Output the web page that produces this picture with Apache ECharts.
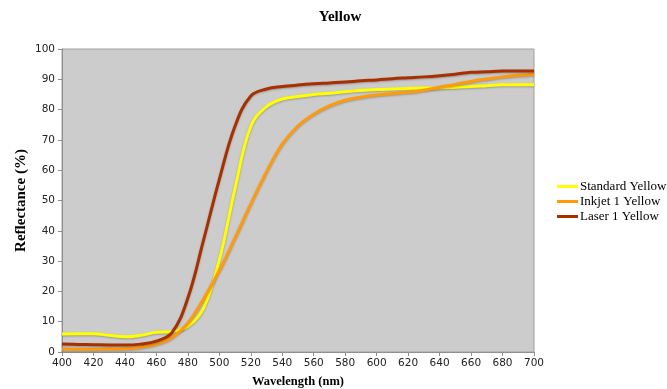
<!DOCTYPE html>
<html><head><meta charset="utf-8">
<script src="https://cdn.jsdelivr.net/npm/echarts@6/dist/echarts.min.js"></script>
<style>html,body{margin:0;padding:0;background:#fff}#c{width:667px;height:389px}</style>
</head><body><div id="c"></div>
<script>
const wavelengths = [400,410,420,430,440,450,460,470,480,490,500,510,520,530,540,550,560,570,580,590,600,610,620,630,640,650,660,670,680,690,700];
const standardYellow = [5.9,6.0,6.0,5.5,5.0,5.5,6.5,6.8,8.5,14.5,30.4,54,74.5,81,83.5,84.3,85,85.4,85.9,86.3,86.6,86.8,87,87.1,87.1,87.4,87.6,87.9,88.2,88.2,88.2];
const inkjet1Yellow = [1.0,0.9,0.9,1.0,1.1,1.6,2.6,4.8,9.5,17.5,26.8,37.6,48.8,59.4,68.6,74.6,78.5,81.2,83.1,84.1,84.8,85.3,85.7,86.4,87.4,88.3,89.3,90.1,90.8,91.3,91.7];
const laser1Yellow = [2.6,2.5,2.4,2.3,2.3,2.6,3.6,6.5,17.8,37,57,74.6,84.5,86.8,87.6,88.1,88.5,88.8,89.1,89.5,89.8,90.2,90.5,90.8,91.2,91.7,92.3,92.5,92.7,92.7,92.7];
const seriesNames = ['Standard Yellow','Inkjet 1 Yellow','Laser 1 Yellow'];
const seriesColors = ['#FFFF00','#FF9A0A','#A83000'];
const seriesValues = [standardYellow, inkjet1Yellow, laser1Yellow];

const chart = echarts.init(document.getElementById('c'));
const serif = '"Liberation Serif", "DejaVu Serif", serif';
const sans = '"DejaVu Sans", Verdana, sans-serif';
chart.setOption({
  animation:false,
  backgroundColor:'#fff',
  title:{text:'Yellow',left:335,top:5,textAlign:'center',textStyle:{fontFamily:serif,fontWeight:'bold',fontSize:15,color:'#000'}},
  legend:{orient:'vertical',left:552,top:175,itemWidth:21,itemHeight:3,itemGap:2,icon:'rect',
    textStyle:{fontFamily:serif,fontSize:13,lineHeight:13,color:'#000',padding:[0,0,0,-3]},data:seriesNames},
  grid:{left:62,right:133,top:49,bottom:37,outerBoundsMode:'none',containLabel:false,show:true,backgroundColor:'#CCCCCC',borderColor:'#A0A0A0',borderWidth:1},
  xAxis:{type:'value',min:400,max:700,interval:20,
    name:'Wavelength (nm)',nameLocation:'middle',nameGap:23,nameMoveOverlap:false,
    nameTextStyle:{fontFamily:serif,fontWeight:'bold',fontSize:12.5,color:'#000'},
    axisLine:{lineStyle:{color:'#909090'}},axisTick:{show:true,length:4,lineStyle:{color:'#909090'}},
    splitLine:{show:false},axisLabel:{fontFamily:sans,fontSize:10.5,color:'#222',margin:6}},
  yAxis:{type:'value',min:0,max:100,interval:10,
    name:'Reflectance (%)',nameLocation:'middle',nameGap:33,nameMoveOverlap:false,
    nameTextStyle:{fontFamily:serif,fontWeight:'bold',fontSize:15,color:'#000'},
    axisLine:{show:true,lineStyle:{color:'#909090'}},axisTick:{show:true,length:4,lineStyle:{color:'#909090'}},
    splitLine:{show:false},axisLabel:{fontFamily:sans,fontSize:10.5,color:'#222',margin:7}},
  series: seriesNames.map((n,i)=>({
    name:n,type:'line',smooth:0.4,showSymbol:false,symbol:'none',
    data:wavelengths.map((w,j)=>[w,seriesValues[i][j]]),
    lineStyle:{color:seriesColors[i],width:3,shadowColor:'rgba(0,0,0,0.25)',shadowBlur:2,shadowOffsetY:1},
    itemStyle:{color:seriesColors[i]}
  }))
});
</script></body></html>
